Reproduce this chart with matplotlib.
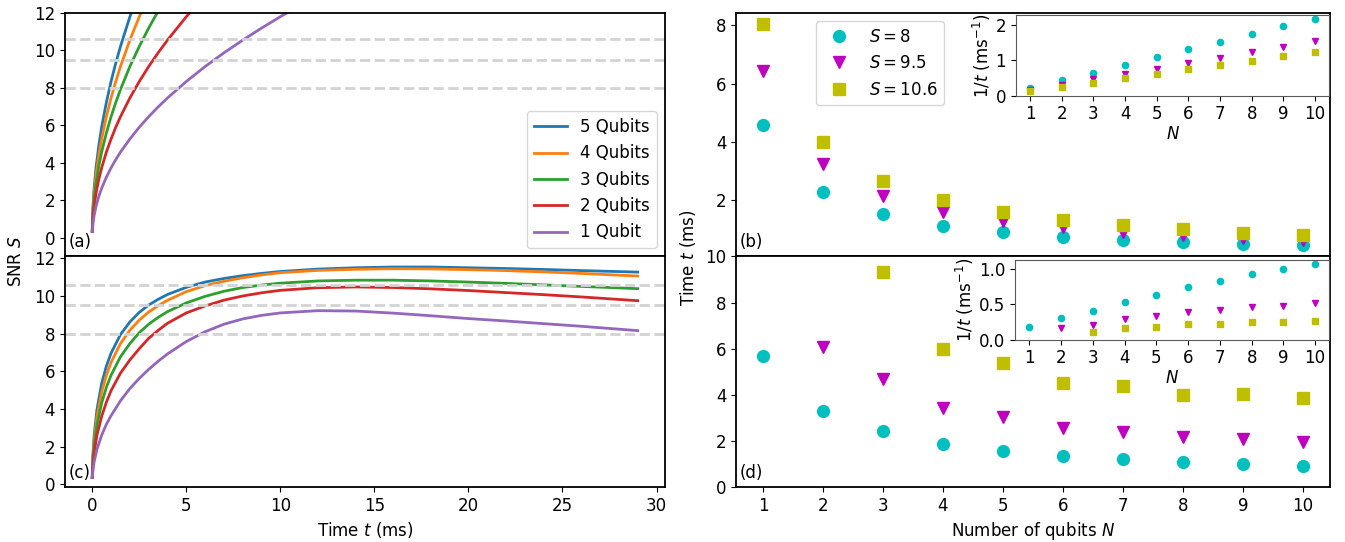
import numpy as np
import matplotlib.pyplot as plt

plt.rcParams['font.size'] = 12

# (a) SNR against time without decay
t_a = [0, 0.02, 0.05, 0.1, 0.2, 0.35, 0.5, 0.75, 1, 1.25, 1.5, 2, 2.5, 3, 3.5, 4,
       5, 6, 7, 8, 9, 10, 11]
snr_a_5q = [0.35, 1.18, 1.86, 2.64, 3.73, 4.93, 5.90, 7.22, 8.34, 9.32, 10.21, 11.79,
            13.19, 14.44, 15.60, 16.68, 18.65, 20.43, 22.07, 23.59, 25.02, 26.37, 27.66]
snr_a_4q = [0.35, 1.06, 1.67, 2.36, 3.34, 4.41, 5.27, 6.46, 7.46, 8.34, 9.14, 10.55,
            11.80, 12.92, 13.96, 14.92, 16.68, 18.27, 19.74, 21.10, 22.38, 23.59, 24.74]
snr_a_3q = [0.35, 0.91, 1.44, 2.04, 2.89, 3.82, 4.57, 5.59, 6.46, 7.22, 7.91, 9.14,
            10.21, 11.19, 12.09, 12.92, 14.44, 15.82, 17.09, 18.27, 19.38, 20.43, 21.43]
snr_a_2q = [0.35, 0.75, 1.18, 1.67, 2.36, 3.12, 3.73, 4.57, 5.27, 5.90, 6.46, 7.46,
            8.34, 9.14, 9.87, 10.55, 11.80, 12.92, 13.96, 14.92, 15.82, 16.68, 17.50]
snr_a_1q = [0.35, 0.53, 0.83, 1.18, 1.67, 2.21, 2.64, 3.23, 3.73, 4.17, 4.57, 5.27,
            5.90, 6.46, 6.98, 7.46, 8.34, 9.14, 9.87, 10.55, 11.19, 11.80, 12.37]

# (c) SNR against time with decay
t_c = [0, 0.03, 0.1, 0.25, 0.5, 0.75, 1, 1.5, 2, 2.5, 3, 3.5, 4, 5, 6, 7, 8, 9, 10,
       12, 14, 16, 18, 20, 22, 24, 26, 29]
snr_c_5q = [0.35, 1.44, 2.58, 3.96, 5.35, 6.27, 6.96, 7.95, 8.62, 9.13, 9.52, 9.82,
            10.08, 10.46, 10.74, 10.93, 11.08, 11.20, 11.30, 11.43, 11.50, 11.54,
            11.54, 11.50, 11.46, 11.41, 11.35, 11.27]
snr_c_4q = [0.35, 1.29, 2.32, 3.58, 4.88, 5.78, 6.47, 7.47, 8.18, 8.72, 9.15, 9.48,
            9.77, 10.23, 10.55, 10.78, 10.97, 11.12, 11.24, 11.36, 11.42, 11.45,
            11.44, 11.40, 11.35, 11.28, 11.20, 11.06]
snr_c_3q = [0.35, 1.12, 2.02, 3.14, 4.31, 5.14, 5.79, 6.77, 7.47, 8.05, 8.50, 8.86,
            9.17, 9.63, 9.98, 10.25, 10.45, 10.58, 10.68, 10.80, 10.84, 10.84,
            10.80, 10.74, 10.67, 10.59, 10.51, 10.39]
snr_c_2q = [0.35, 0.91, 1.65, 2.60, 3.60, 4.35, 4.97, 5.90, 6.60, 7.20, 7.75, 8.17,
            8.55, 9.10, 9.47, 9.78, 10.00, 10.17, 10.30, 10.44, 10.48, 10.45,
            10.38, 10.29, 10.18, 10.07, 9.95, 9.75]
snr_c_1q = [0.35, 0.65, 1.18, 1.85, 2.60, 3.18, 3.64, 4.43, 5.08, 5.62, 6.10, 6.53,
            6.92, 7.58, 8.10, 8.50, 8.78, 8.97, 9.10, 9.22, 9.20, 9.09, 8.95, 8.80,
            8.67, 8.53, 8.39, 8.16]

curve_labels = ['5 Qubits', '4 Qubits', '3 Qubits', '2 Qubits', '1 Qubit']
thresholds = [8, 9.5, 10.6]

# (b), (d) time to reach the SNR thresholds
n_qubits = [1, 2, 3, 4, 5, 6, 7, 8, 9, 10]
t_b_s8 = [4.58, 2.29, 1.53, 1.14, 0.92, 0.76, 0.66, 0.575, 0.51, 0.46]
t_b_s95 = [6.45, 3.25, 2.16, 1.62, 1.30, 1.08, 0.93, 0.81, 0.72, 0.65]
t_b_s106 = [8.05, 4.02, 2.68, 2.01, 1.61, 1.34, 1.15, 1.01, 0.89, 0.81]
t_d_s8 = [5.68, 3.28, 2.45, 1.86, 1.58, 1.33, 1.20, 1.07, 1.00, 0.93]
t_d_s95 = [np.nan, 6.07, 4.67, 3.43, 3.02, 2.54, 2.39, 2.15, 2.09, 1.93]
t_d_s106 = [np.nan, np.nan, 9.32, 5.97, 5.39, 4.50, 4.38, 3.97, 4.03, 3.87]

series_labels = ['$S = 8$', '$S = 9.5$', '$S = 10.6$']
series_styles = ['co', 'mv', 'ys']


fig = plt.figure(figsize=(13.45, 5.42), dpi=100)
ax_a = fig.add_axes([0.0483, 0.5268, 0.4461, 0.4493])
ax_c = fig.add_axes([0.0483, 0.1015, 0.4461, 0.4253], sharex=ax_a)
ax_b = fig.add_axes([0.5472, 0.5268, 0.4416, 0.4493])
ax_d = fig.add_axes([0.5472, 0.1015, 0.4416, 0.4253], sharex=ax_b)

# left column
for ax, t, curves in [(ax_a, t_a, [snr_a_5q, snr_a_4q, snr_a_3q, snr_a_2q, snr_a_1q]),
                      (ax_c, t_c, [snr_c_5q, snr_c_4q, snr_c_3q, snr_c_2q, snr_c_1q])]:
    for i, s in enumerate(curves):
        ax.plot(t, s, color=f'C{i}', lw=2, label=curve_labels[i])
    for level in thresholds:
        ax.axhline(level, color='lightgray', ls='--', lw=2)

ax_a.set_xlim(-1.45, 30.45)
ax_a.set_ylim(-1.0, 12)
ax_c.set_ylim(-0.15, 12.1)
ax_a.set_yticks([0, 2, 4, 6, 8, 10, 12])
ax_c.set_yticks([0, 2, 4, 6, 8, 10, 12])
ax_a.tick_params(labelbottom=False, bottom=False)
ax_a.legend(loc='lower right')
ax_c.set_xlabel('Time $t$ (ms)')
fig.text(0.012, 0.517, 'SNR $S$', rotation=90, ha='center', va='center')

# right column
for ax, data in [(ax_b, [t_b_s8, t_b_s95, t_b_s106]),
                 (ax_d, [t_d_s8, t_d_s95, t_d_s106])]:
    for i, t in enumerate(data):
        ax.plot(n_qubits, t, series_styles[i], ms=8.5, label=series_labels[i])

ax_b.set_xticks(n_qubits)
ax_b.tick_params(labelbottom=False, bottom=False)
ax_d.set_ylim(0, 10)
ax_d.set_xlabel('Number of qubits $N$')
ax_b.legend(loc='upper left', bbox_to_anchor=(0.12, 1.0))
fig.text(0.5115, 0.524, 'Time $t$ (ms)', rotation=90, ha='center', va='center')

for ax, letter in [(ax_a, '(a)'), (ax_b, '(b)'), (ax_c, '(c)'), (ax_d, '(d)')]:
    ax.text(0.006, 0.022, letter, transform=ax.transAxes, ha='left', va='bottom')
    for sp in ax.spines.values():
        sp.set_linewidth(1.3)

# insets with 1/t
ins_b = fig.add_axes([0.7552, 0.8234, 0.2332, 0.1483])
ins_d = fig.add_axes([0.7548, 0.3732, 0.2336, 0.1465])
for ins, data in [(ins_b, [t_b_s8, t_b_s95, t_b_s106]),
                  (ins_d, [t_d_s8, t_d_s95, t_d_s106])]:
    for i, t in enumerate(data):
        ins.plot(n_qubits, 1 / np.array(t), series_styles[i], ms=4.5)
    ins.set_xticks(n_qubits)
    ins.set_ylim(bottom=0)
    ins.set_xlabel('$N$', labelpad=1)
    ins.set_ylabel('$1/t$ (ms$^{-1}$)', labelpad=2)
    for sp in ins.spines.values():
        sp.set_color('0.35')
ins_b.set_yticks([0, 1, 2])
ins_d.set_yticks([0.0, 0.5, 1.0])

fig.savefig('out.png', dpi=100)
